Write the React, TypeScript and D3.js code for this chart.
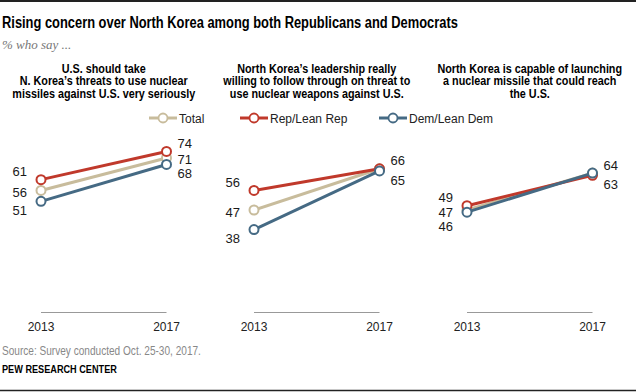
import { useRef, useEffect } from 'react'
import * as d3 from 'd3'

const years = ['2013', '2017']
const panelTitles = [
  ['U.S. should take', 'N. Korea\u2019s threats to use nuclear', 'missiles against U.S. very seriously'],
  ['North Korea\u2019s leadership really', 'willing to follow through on threat to', 'use nuclear weapons against U.S.'],
  ['North Korea is capable of launching', 'a nuclear missile that could reach', 'the U.S.']
]
const seriesNames = ['Total', 'Rep/Lean Rep', 'Dem/Lean Dem']
const totalValues = [[56, 71], [47, 66], [47, 64]]
const repValues = [[61, 74], [56, 66], [49, 63]]
const demValues = [[51, 68], [38, 65], [46, 64]]

const colors = ['#c8bc9c', '#c0392b', '#456a84']
const sans = '"Liberation Sans", Arial, sans-serif'

// squeeze a text horizontally to a measured width (no narrow font installed)
function fitWidth(sel: d3.Selection<SVGTextElement, unknown, null, undefined>, target: number) {
  const w = sel.node()!.getComputedTextLength()
  const x = +sel.attr('x')
  const yy = +sel.attr('y')
  sel.attr('x', 0).attr('y', 0)
    .attr('transform', `translate(${x},${yy}) scale(${target / w},1)`)
}

function Chart() {
  const ref = useRef<HTMLDivElement>(null)

  function renderChart(container: HTMLDivElement | null) {
    if (container === null) return
    const width = 636
    const height = 392
    container.innerHTML = ''
    const svg = d3.select(container).append('svg')
      .attr('width', width)
      .attr('height', height)
      .style('display', 'block')

    svg.append('rect').attr('width', width).attr('height', height).attr('fill', '#fff')

    // rules top and bottom
    svg.append('line').attr('x1', 0).attr('x2', width).attr('y1', 1).attr('y2', 1)
      .attr('stroke', '#222').attr('stroke-width', 2)
    svg.append('line').attr('x1', 0).attr('x2', width).attr('y1', 390.5).attr('y2', 390.5)
      .attr('stroke', '#222').attr('stroke-width', 1.5)

    const title = svg.append('text').attr('x', 2).attr('y', 28)
      .attr('font-family', sans).attr('font-weight', 'bold').attr('font-size', 17)
      .attr('fill', '#000')
      .text('Rising concern over North Korea among both Republicans and Democrats')
    fitWidth(title, 456)

    svg.append('text').attr('x', 2).attr('y', 49)
      .attr('font-family', '"Liberation Serif", serif').attr('font-style', 'italic').attr('font-size', 13)
      .attr('fill', '#777')
      .text('% who say ...')

    // legend
    const legendX = [163, 254, 393]
    seriesNames.forEach((name, i) => {
      const g = svg.append('g').attr('transform', `translate(${legendX[i]},118)`)
      g.append('line').attr('x1', -14).attr('x2', 14).attr('stroke', colors[i]).attr('stroke-width', 3)
      g.append('circle').attr('r', 4.5).attr('fill', '#fff').attr('stroke', colors[i]).attr('stroke-width', 1.8)
      g.append('text').attr('x', 16).attr('y', 4.5)
        .attr('font-family', sans).attr('font-size', 12).attr('fill', '#222')
        .text(name)
    })

    const y = d3.scaleLinear().domain([0, 100]).range([312, 95])
    const allSeries = [totalValues, repValues, demValues]

    // header squeeze factor, measured on one reference line
    const probe = svg.append('text')
      .attr('font-family', sans).attr('font-weight', 'bold').attr('font-size', 12)
      .text(panelTitles[0][2])
    const headScale = 183 / probe.node()!.getComputedTextLength()
    probe.remove()

    panelTitles.forEach((lines, p) => {
      const left = 41 + p * 213
      const x = d3.scalePoint<string>().domain(years).range([left, left + 125.5])
      const cx = left + 125.5 / 2

      const hg = svg.append('g').attr('transform', `translate(${cx},0) scale(${headScale},1)`)
      lines.forEach((line, k) => {
        hg.append('text').attr('x', 0).attr('y', 73 + k * 12.3)
          .attr('text-anchor', 'middle')
          .attr('font-family', sans).attr('font-weight', 'bold').attr('font-size', 12)
          .attr('fill', '#000')
          .text(line)
      })

      // axis
      svg.append('line').attr('x1', x('2013')!).attr('x2', x('2017')!)
        .attr('y1', 312.5).attr('y2', 312.5)
        .attr('stroke', '#999').attr('stroke-width', 1.2)

      years.forEach((yr) => {
        svg.append('text').attr('x', x(yr)!).attr('y', 331)
          .attr('text-anchor', 'middle')
          .attr('font-family', sans).attr('font-size', 12).attr('fill', '#222')
          .text(yr)
      })

      allSeries.forEach((series, s) => {
        const vals = series[p]
        const pts = years.map((yr, j) => [x(yr)!, y(vals[j])] as [number, number])
        svg.append('path')
          .attr('d', d3.line()(pts))
          .attr('fill', 'none')
          .attr('stroke', colors[s])
          .attr('stroke-width', 3)
        pts.forEach((pt) => {
          svg.append('circle').attr('cx', pt[0]).attr('cy', pt[1]).attr('r', 4.5)
            .attr('fill', '#fff').attr('stroke', colors[s]).attr('stroke-width', 2)
        })
      })

      // value labels
      years.forEach((yr, j) => {
        const uniq = Array.from(new Set(allSeries.map((s) => s[p][j]))).sort((a, b) => b - a)
        const pos = uniq.map((v, k) => {
          let off = 2
          if (k === 0) off = -8
          else if (k === uniq.length - 1) off = 9
          return y(v) + off
        })
        for (let k = 1; k < pos.length; k++) {
          if (pos[k] - pos[k - 1] < 14) pos[k] = pos[k - 1] + 14
        }
        uniq.forEach((v, k) => {
          svg.append('text')
            .attr('x', j === 0 ? x(yr)! - 14 : x(yr)! + 11)
            .attr('y', pos[k])
            .attr('dy', '0.35em')
            .attr('text-anchor', j === 0 ? 'end' : 'start')
            .attr('font-family', sans).attr('font-size', 13).attr('fill', '#1a1a1a')
            .text(v)
        })
      })
    })

    const src = svg.append('text').attr('x', 2).attr('y', 355)
      .attr('font-family', sans).attr('font-size', 12).attr('fill', '#888')
      .text('Source: Survey conducted Oct. 25-30, 2017.')
    fitWidth(src, 199)
    const pew = svg.append('text').attr('x', 2).attr('y', 373)
      .attr('font-family', sans).attr('font-weight', 'bold').attr('font-size', 11).attr('fill', '#000')
      .text('PEW RESEARCH CENTER')
    fitWidth(pew, 115)
  }

  useEffect(() => {
    renderChart(ref.current)
  })

  return <div ref={ref} style={{ position: 'absolute', left: 0, top: 0 }}></div>
}

export default function App() {
  return <Chart />
}
